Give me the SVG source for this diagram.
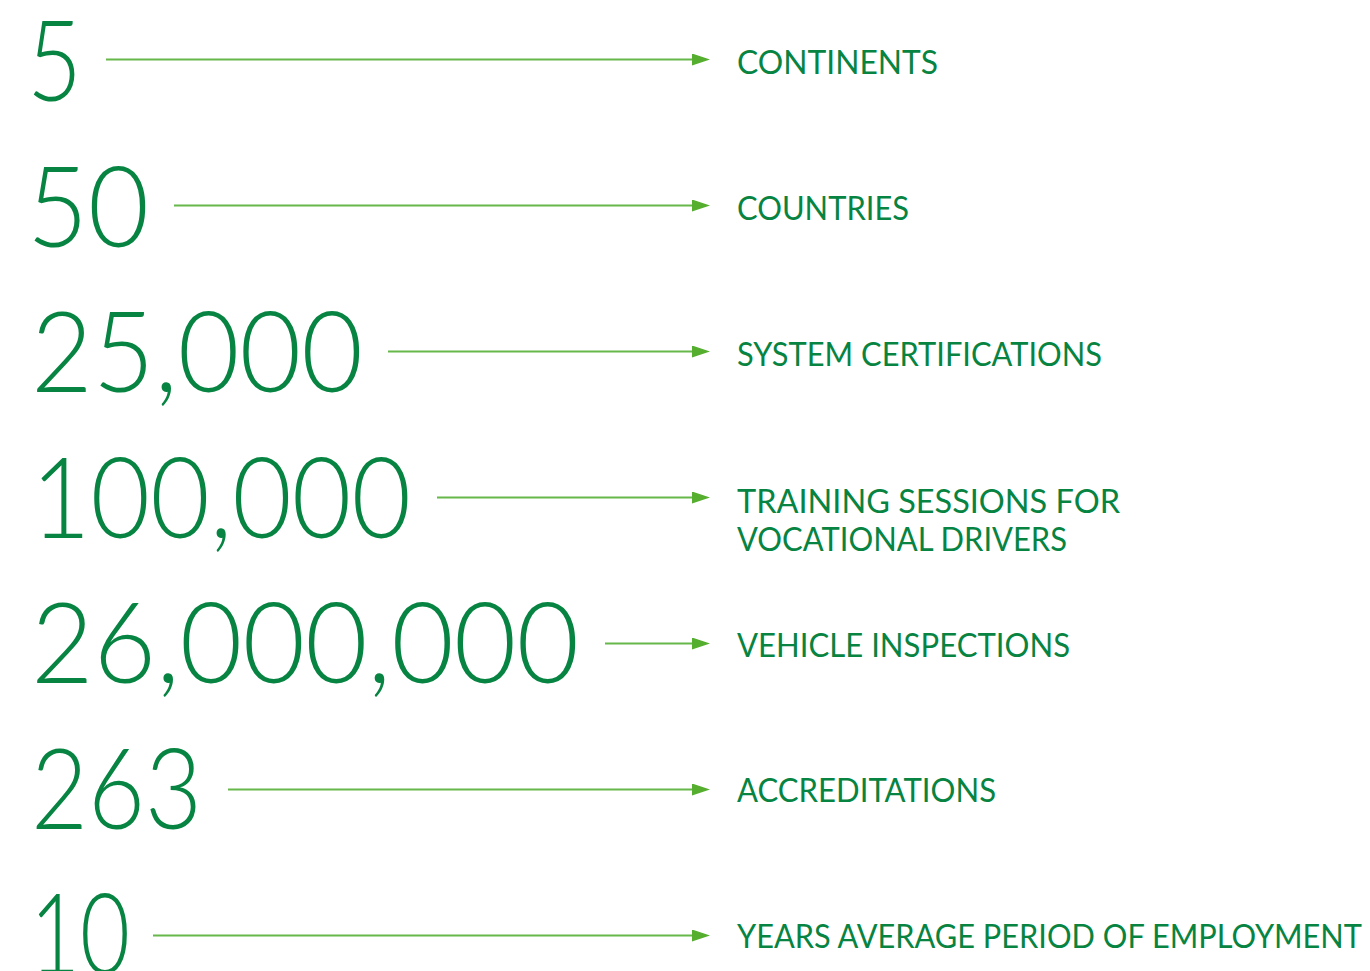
<svg xmlns="http://www.w3.org/2000/svg" width="1370" height="971" viewBox="0 0 1370 971">
<style>
.num{font-family:Lato,"Liberation Sans",sans-serif;font-weight:300;font-size:112px;fill:#078442}
.lbl{font-family:Lato,"Liberation Sans",sans-serif;font-weight:400;font-size:32px;fill:#078442}
.arr{stroke:#66B84A;stroke-width:2.2;fill:none}
</style>
<defs>
<marker id="ah" markerUnits="userSpaceOnUse" markerWidth="18" markerHeight="12" refX="0" refY="6" orient="auto">
<path d="M0,0 L18,6 L0,12 Z" fill="#55AE2D"/>
</marker>
</defs>
<g id="connectors">
<line class="arr" x1="106" y1="59.5" x2="692" y2="59.5" marker-end="url(#ah)"/>
<line class="arr" x1="174" y1="205.5" x2="692" y2="205.5" marker-end="url(#ah)"/>
<line class="arr" x1="388" y1="351.5" x2="692" y2="351.5" marker-end="url(#ah)"/>
<line class="arr" x1="437" y1="497.5" x2="692" y2="497.5" marker-end="url(#ah)"/>
<line class="arr" x1="605" y1="643.5" x2="692" y2="643.5" marker-end="url(#ah)"/>
<line class="arr" x1="228" y1="789.5" x2="692" y2="789.5" marker-end="url(#ah)"/>
<line class="arr" x1="153" y1="935.5" x2="692" y2="935.5" marker-end="url(#ah)"/>
</g>
<g id="n5">
<text class="num" x="27" y="101" textLength="55" lengthAdjust="spacingAndGlyphs">5</text>
<text class="lbl" x="737" y="74" textLength="201" lengthAdjust="spacingAndGlyphs">CONTINENTS</text>
</g>
<g id="n50">
<text class="num" x="27" y="247" textLength="122" lengthAdjust="spacingAndGlyphs">50</text>
<text class="lbl" x="737" y="220" textLength="172" lengthAdjust="spacingAndGlyphs">COUNTRIES</text>
</g>
<g id="n25000">
<text class="num" x="31" y="392" textLength="332" lengthAdjust="spacingAndGlyphs">25,000</text>
<text class="lbl" x="737" y="366" textLength="365" lengthAdjust="spacingAndGlyphs">SYSTEM CERTIFICATIONS</text>
</g>
<g id="n100000">
<text class="num" x="31" y="538" textLength="380" lengthAdjust="spacingAndGlyphs">100,000</text>
<text class="lbl" x="737" y="513" textLength="383" lengthAdjust="spacingAndGlyphs">TRAINING SESSIONS FOR</text>
<text class="lbl" x="737" y="551" textLength="330" lengthAdjust="spacingAndGlyphs">VOCATIONAL DRIVERS</text>
</g>
<g id="n26000000">
<text class="num" x="31" y="683" textLength="548" lengthAdjust="spacingAndGlyphs">26,000,000</text>
<text class="lbl" x="737" y="657" textLength="333" lengthAdjust="spacingAndGlyphs">VEHICLE INSPECTIONS</text>
</g>
<g id="n263">
<text class="num" x="31" y="829" textLength="171" lengthAdjust="spacingAndGlyphs">263</text>
<text class="lbl" x="737" y="802" textLength="259" lengthAdjust="spacingAndGlyphs">ACCREDITATIONS</text>
</g>
<g id="n10">
<text class="num" x="30" y="974" textLength="100" lengthAdjust="spacingAndGlyphs">10</text>
<text class="lbl" x="737" y="948" textLength="625" lengthAdjust="spacingAndGlyphs">YEARS AVERAGE PERIOD OF EMPLOYMENT</text>
</g>
</svg>
